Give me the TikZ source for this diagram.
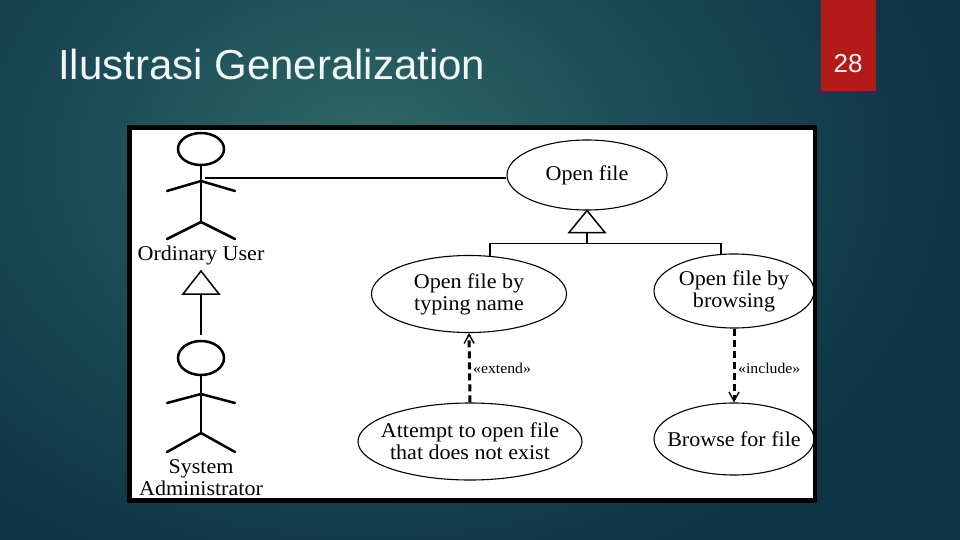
\documentclass[tikz,border=0pt]{standalone}
\usepackage{fontspec}
\setmainfont{Liberation Serif}
\newfontfamily\titlefont{Liberation Sans}
\newfontfamily\diagfont[FakeStretch=1.05]{Liberation Serif}
\usetikzlibrary{shapes.geometric,arrows.meta,calc}
\definecolor{bgdark}{HTML}{0F3445}
\definecolor{bgmid}{HTML}{1C4D58}
\definecolor{bglight}{HTML}{2F6A68}
\definecolor{slidered}{HTML}{B21B17}
\definecolor{titlewhite}{HTML}{F2F6F6}
\pgfdeclareradialshading{bgshade}{\pgfpoint{0bp}{0bp}}{color(0bp)=(bglight); color(9bp)=(bgmid); color(19bp)=(bgdark); color(50bp)=(bgdark)}
\tikzset{
  uc/.style={draw=black, line width=1.1pt, ellipse, inner sep=0pt},
  lbl/.style={font=\diagfont\fontsize{21}{22}\selectfont, align=center, inner sep=0pt, text=black},
  stereo/.style={font=\diagfont\fontsize{15}{16}\selectfont, inner sep=0pt, anchor=west, text=black},
  actorline/.style={line width=2.5pt, line cap=round, line join=round},
  genline/.style={line width=1.5pt},
  dep/.style={line width=3pt, dash pattern=on 7pt off 4pt, -{Straight Barb[length=9pt,width=10pt,line width=1.4pt]}},
}
\begin{document}
\begin{tikzpicture}[x=1pt,y=-1pt]
\useasboundingbox (0,0) rectangle (960,540);
% background
\fill[bgdark] (0,0) rectangle (960,540);
\begin{scope}
  \clip (0,0) rectangle (960,540);
  \shade[shading=bgshade] (370,160) ellipse [x radius=760, y radius=580];
\end{scope}
% red page tab
\fill[slidered] (821,0) rectangle (876,91);
\node[font=\titlefont\fontsize{26}{28}\selectfont, text=titlewhite, inner sep=0pt] (pagenum) at (848,64) {28};
% title
\node[font=\titlefont\fontsize{42}{46}\selectfont, text=titlewhite, inner sep=0pt, anchor=base west] (title) at (58,80) {Ilustrasi Generalization};
% white panel
\fill[white] (129,127) rectangle (815,501);

% actor 1: Ordinary User
\node[draw, line width=2.5pt, ellipse, minimum width=46pt, minimum height=32pt, inner sep=0pt] (u1head) at (201,149) {};
\coordinate (u1neck) at (201,181);
\coordinate (u1hip) at (201,222);
\draw[actorline] (u1head.south) -- (u1hip);
\draw[actorline] (167,191) -- (u1neck) -- (235,191);
\draw[actorline] (167,239) -- (u1hip) -- (235,239);
\node[lbl] (u1lbl) at (201,255) {Ordinary User};

% actor 2: System Administrator
\node[draw, line width=2.5pt, ellipse, minimum width=46pt, minimum height=34pt, inner sep=0pt] (u2head) at (201,358) {};
\coordinate (u2neck) at (201,394);
\coordinate (u2hip) at (201,433);
\draw[actorline] (u2head.south) -- (u2hip);
\draw[actorline] (167,403) -- (u2neck) -- (235,403);
\draw[actorline] (167,452) -- (u2hip) -- (235,452);
\node[lbl] (u2lbl) at (201,478) {System\\Administrator};

% actor generalization
\coordinate (agtip) at (201,271);
\coordinate (agend) at (201,335);
\draw[genline, fill=white, line join=miter] (agtip) -- ++(18,23) -- ++(-36,0) -- cycle;
\draw[genline] ($(agtip)+(0,23)$) -- (agend);

% use cases
\node[uc, minimum width=160pt, minimum height=70pt] (ofile) at (587,175) {};
\node[lbl] (ofiletxt) at (ofile.center) {Open file};
\node[uc, minimum width=195pt, minimum height=77pt] (typing) at (469,294) {};
\node[lbl] (typingtxt) at (typing.center) {Open file by\\typing name};
\node[uc, minimum width=160pt, minimum height=74pt] (bybrowse) at (734,291) {};
\node[lbl] (bybrowsetxt) at (bybrowse.center) {Open file by\\browsing};
\node[uc, minimum width=224pt, minimum height=77pt] (attempt) at (470,441.5) {};
\node[lbl] (attempttxt) at (attempt.center) {Attempt to open file\\that does not exist};
\node[uc, minimum width=160pt, minimum height=72pt] (browse) at (734,439) {};
\node[lbl] (browsetxt) at (browse.center) {Browse for file};

% association
\coordinate (u1arm) at (205,178);
\draw[line width=2pt] (u1arm) -- (u1arm -| ofile.west);

% use case generalization
\draw[genline, fill=white, line join=miter] (ofile.south) -- ++(18,22) -- ++(-36,0) -- cycle;
\coordinate (ugjoin) at ($(ofile.south)+(0,33)$);
\coordinate (ugleft) at ($(typing.north)+(21,1)$);
\coordinate (ugright) at ($(bybrowse.north)+(-13,1)$);
\draw[genline] ($(ofile.south)+(0,22)$) -- (ugjoin);
\draw[genline] (ugleft) |- (ugjoin) -| (ugright);

% extend / include
\draw[dep] (attempt.north) -- (typing.south);
\node[stereo] (extlbl) at (473,368) {«extend»};
\draw[dep] (bybrowse.south) -- (browse.north);
\node[stereo] (inclbl) at (738,368) {«include»};

% panel border
\draw[black, line width=4.5pt] (129.25,127.5) rectangle (814.75,500.5);
\end{tikzpicture}
\end{document}
